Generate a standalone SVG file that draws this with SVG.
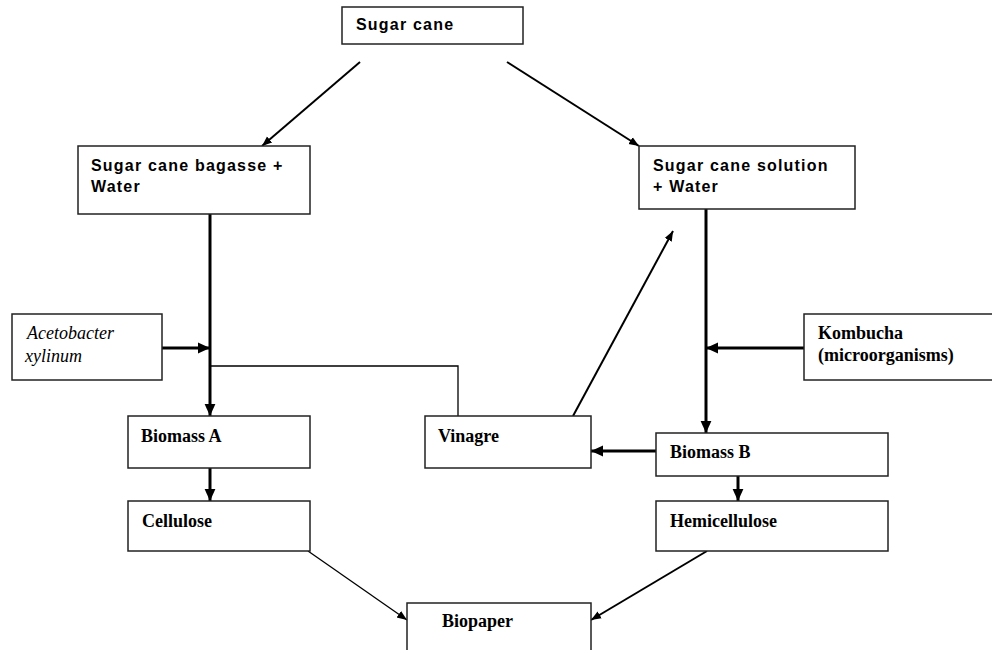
<svg xmlns="http://www.w3.org/2000/svg" width="992" height="650" viewBox="0 0 992 650">
<style>
.box{fill:#fff;stroke:#222;stroke-width:1.5}
.sans{font-family:"Liberation Sans",Arial,sans-serif;font-weight:bold;font-size:16px;letter-spacing:1.2px;fill:#000}
.serif{font-family:"Liberation Serif","Times New Roman",serif;font-weight:bold;font-size:18px;fill:#000}
.ital{font-family:"Liberation Serif","Times New Roman",serif;font-style:italic;font-size:18px;fill:#000}
.c{fill:none;stroke:#000}
.w3{stroke-width:3}
.w2{stroke-width:2}
.w1{stroke-width:1.3}
</style>
<defs>
<marker id="ah" markerUnits="userSpaceOnUse" markerWidth="12" markerHeight="12" viewBox="0 0 10 10" refX="10" refY="5" orient="auto">
<path d="M0,0.5 L10,5 L0,9.5 z" fill="#000"/>
</marker>
<marker id="ahs" markerUnits="userSpaceOnUse" markerWidth="10" markerHeight="10" viewBox="0 0 10 10" refX="10" refY="5" orient="auto">
<path d="M0,1 L10,5 L0,9 z" fill="#000"/>
</marker>
</defs>
<rect width="992" height="650" fill="#fff"/>
<g id="connectors">
<line class="c w2" x1="360" y1="62" x2="262" y2="146" marker-end="url(#ahs)"/>
<line class="c w2" x1="507" y1="62" x2="639" y2="146" marker-end="url(#ahs)"/>
<line class="c w3" x1="210" y1="214" x2="210" y2="416" marker-end="url(#ah)"/>
<line class="c w3" x1="162" y1="348" x2="210" y2="348" marker-end="url(#ah)"/>
<polyline class="c w1" points="210,366 458,366 458,416"/>
<line class="c w3" x1="706" y1="209" x2="706" y2="433" marker-end="url(#ah)"/>
<line class="c w3" x1="804" y1="348" x2="706" y2="348" marker-end="url(#ah)"/>
<line class="c w2" x1="573" y1="416" x2="673" y2="231" marker-end="url(#ahs)"/>
<line class="c w3" x1="656" y1="451" x2="591" y2="451" marker-end="url(#ah)"/>
<line class="c w3" x1="210" y1="468" x2="210" y2="501" marker-end="url(#ah)"/>
<line class="c w3" x1="738" y1="476" x2="738" y2="501" marker-end="url(#ah)"/>
<line class="c w1" x1="308" y1="551" x2="407" y2="620" marker-end="url(#ahs)"/>
<line class="c w2" x1="707" y1="551" x2="591" y2="620" marker-end="url(#ahs)"/>
</g>
<g id="sugar-cane">
<rect class="box" x="342" y="7" width="181" height="37"/>
<text class="sans" x="356" y="30">Sugar cane</text>
</g>
<g id="bagasse">
<rect class="box" x="78" y="146" width="232" height="68"/>
<text class="sans" x="91" y="171">Sugar cane bagasse +</text>
<text class="sans" x="91" y="192">Water</text>
</g>
<g id="solution">
<rect class="box" x="639" y="146" width="216" height="63"/>
<text class="sans" x="653" y="171">Sugar cane solution</text>
<text class="sans" x="653" y="192">+ Water</text>
</g>
<g id="acetobacter">
<rect class="box" x="12" y="314" width="150" height="66"/>
<text class="ital" x="27" y="339">Acetobacter</text>
<text class="ital" x="25" y="362">xylinum</text>
</g>
<g id="kombucha">
<rect class="box" x="804" y="314" width="200" height="66"/>
<text class="serif" x="818" y="339">Kombucha</text>
<text class="serif" x="818" y="361">(microorganisms)</text>
</g>
<g id="biomass-a">
<rect class="box" x="128" y="416" width="182" height="52"/>
<text class="serif" x="141" y="442">Biomass A</text>
</g>
<g id="vinagre">
<rect class="box" x="425" y="416" width="166" height="52"/>
<text class="serif" x="438" y="442">Vinagre</text>
</g>
<g id="biomass-b">
<rect class="box" x="656" y="433" width="232" height="43"/>
<text class="serif" x="670" y="458">Biomass B</text>
</g>
<g id="cellulose">
<rect class="box" x="128" y="501" width="182" height="50"/>
<text class="serif" x="142" y="527">Cellulose</text>
</g>
<g id="hemicellulose">
<rect class="box" x="656" y="501" width="232" height="50"/>
<text class="serif" x="670" y="527">Hemicellulose</text>
</g>
<g id="biopaper">
<rect class="box" x="407" y="603" width="184" height="80"/>
<text class="serif" x="442" y="627">Biopaper</text>
</g>
</svg>
